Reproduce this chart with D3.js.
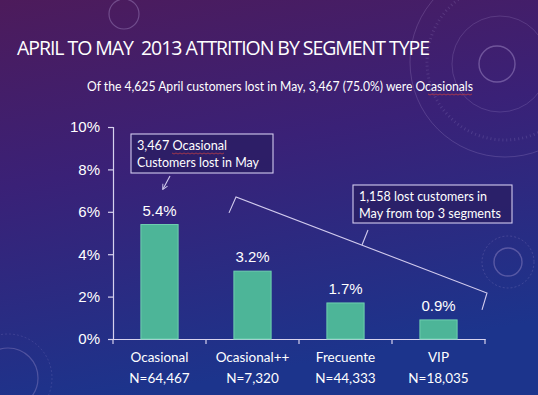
<!DOCTYPE html>
<html>
<head>
<meta charset="utf-8">
<script src="https://cdn.jsdelivr.net/npm/d3@7"></script>
<style>
  html, body { margin: 0; padding: 0; background: #2a2470; }
  svg { display: block; }
</style>
</head>
<body>
<div id="chart"></div>
<script>
const WIDTH  = 538
const HEIGHT = 395

// data
const segments    = ['Ocasional', 'Ocasional++', 'Frecuente', 'VIP']
const attrition   = [5.4, 3.2, 1.7, 0.9]
const valueLabels = ['5.4%', '3.2%', '1.7%', '0.9%']
const counts      = ['N=64,467', 'N=7,320', 'N=44,333', 'N=18,035']
const yTicks      = [0, 2, 4, 6, 8, 10]

const title    = 'APRIL TO MAY  2013 ATTRITION BY SEGMENT TYPE'
const subtitle = 'Of the 4,625 April customers lost in May, 3,467 (75.0%) were Ocasionals'
const note1    = ['3,467 Ocasional', 'Customers lost in May']
const note2    = ['1,158 lost customers in', 'May from top 3 segments']

const CALIBRI = 'Lato, "Open Sans", sans-serif'
const ARIAL   = '"Liberation Sans", Arial, sans-serif'

const svg = d3.select('#chart').append('svg')
    .attr('width', WIDTH)
    .attr('height', HEIGHT)

const defs = svg.append('defs')
const bg = defs.append('linearGradient')
    .attr('id', 'bg')
    .attr('x1', 0).attr('y1', 0).attr('x2', 0.25).attr('y2', 1)
bg.append('stop').attr('offset', '0%').attr('stop-color', '#4d1b5b')
bg.append('stop').attr('offset', '45%').attr('stop-color', '#3a2177')
bg.append('stop').attr('offset', '100%').attr('stop-color', '#1c348c')

defs.append('marker')
    .attr('id', 'arrow')
    .attr('viewBox', '0 0 10 10')
    .attr('refX', 8).attr('refY', 5)
    .attr('markerWidth', 6).attr('markerHeight', 6)
    .attr('orient', 'auto')
  .append('path')
    .attr('d', 'M1,1 L9,5 L1,9')
    .attr('fill', 'none')
    .attr('stroke', '#cfc8ec')
    .attr('stroke-width', 1.4)

svg.append('rect')
    .attr('width', WIDTH)
    .attr('height', HEIGHT)
    .attr('fill', 'url(#bg)')

// faint decorative rings of the slide theme
const deco = svg.append('g')
    .attr('fill', 'none')
    .attr('stroke', '#b9a6dc')
const rings = [
    { cx: 124, cy: 14, r: 15, o: 0.35, dash: null, w: 1.2 },
    { cx: 505, cy: 62, r: 95, o: 0.22, dash: null, w: 1 },
    { cx: 505, cy: 62, r: 78, o: 0.18, dash: '1 3', w: 3 },
    { cx: 500, cy: 64, r: 48, o: 0.2, dash: null, w: 1 },
    { cx: 497, cy: 64, r: 18, o: 0.4, dash: null, w: 1.4 },
    { cx: 508, cy: 262, r: 14, o: 0.35, dash: null, w: 1.4 },
    { cx: 508, cy: 262, r: 26, o: 0.25, dash: '2 2', w: 0.8 },
    { cx: 8, cy: 378, r: 30, o: 0.3, dash: null, w: 1.2 },
    { cx: 8, cy: 378, r: 44, o: 0.2, dash: '2 2', w: 0.8 }
]
deco.selectAll('circle').data(rings).join('circle')
    .attr('cx', d => d.cx).attr('cy', d => d.cy).attr('r', d => d.r)
    .attr('stroke-opacity', d => d.o)
    .attr('stroke-width', d => d.w)
    .attr('stroke-dasharray', d => d.dash)

svg.append('text')
    .attr('x', 17).attr('y', 55)
    .attr('fill', '#ffffff')
    .attr('font-family', '"Open Sans", sans-serif')
    .attr('font-size', 19.5)
    .attr('textLength', 413)
    .style('white-space', 'pre')
    .text(title)

svg.append('text')
    .attr('x', 87).attr('y', 91)
    .attr('fill', '#ffffff')
    .attr('font-family', CALIBRI)
    .attr('font-size', 13.5)
    .attr('textLength', 386)
    .attr('lengthAdjust', 'spacingAndGlyphs')
    .text(subtitle)
svg.append('path')
    .attr('d', 'M' + d3.range(428, 473, 2).map((v, i) => `${v},${94 + (i % 2)}`).join(' L'))
    .attr('fill', 'none')
    .attr('stroke', '#d04040')
    .attr('stroke-width', 0.7)

// chart
const margin = { left: 113, right: 53, top: 127, bottom: 56 }
const x = d3.scaleBand()
    .domain(segments)
    .range([margin.left, WIDTH - margin.right])
const y = d3.scaleLinear()
    .domain([0, 10])
    .range([HEIGHT - margin.bottom, margin.top])

const axisColor = '#d7d2ee'

const yAxis = svg.append('g')
    .attr('transform', `translate(${margin.left},0)`)
    .call(d3.axisLeft(y).tickValues(yTicks).tickFormat(d => d + '%').tickSize(5).tickPadding(8))
yAxis.select('.domain').attr('stroke', axisColor).attr('stroke-width', 1.2)
yAxis.selectAll('.tick line').attr('stroke', axisColor).attr('stroke-width', 1.2)
yAxis.selectAll('.tick text')
    .attr('fill', '#ffffff')
    .attr('font-family', ARIAL)
    .attr('font-size', 15)

const xAxis = svg.append('g')
    .attr('transform', `translate(0,${y(0)})`)
    .call(d3.axisBottom(x).tickSize(0).tickFormat(''))
xAxis.select('.domain').attr('stroke', axisColor).attr('stroke-width', 1.2)
xAxis.selectAll('.tick').remove()
xAxis.selectAll('.sep')
    .data(x.domain().map(d => x(d)).concat([x.range()[1]]))
    .join('line')
    .attr('x1', d => d).attr('x2', d => d)
    .attr('y1', 0).attr('y2', 5)
    .attr('stroke', axisColor)
    .attr('stroke-width', 1.2)

const barW = x.bandwidth() * 0.4
const bars = svg.append('g')
bars.selectAll('rect')
    .data(attrition)
    .join('rect')
    .attr('x', (d, i) => x(segments[i]) + (x.bandwidth() - barW) / 2)
    .attr('y', d => y(d))
    .attr('width', barW)
    .attr('height', d => y(0) - y(d))
    .attr('fill', '#4db598')
    .attr('stroke', '#6fd0b0')
    .attr('stroke-width', 1)

bars.selectAll('text.value')
    .data(attrition)
    .join('text')
    .attr('class', 'value')
    .attr('x', (d, i) => x(segments[i]) + x.bandwidth() / 2)
    .attr('y', d => y(d) - 9)
    .attr('text-anchor', 'middle')
    .attr('fill', '#ffffff')
    .attr('font-family', ARIAL)
    .attr('font-size', 15)
    .text((d, i) => valueLabels[i])

svg.append('g').selectAll('text')
    .data(segments)
    .join('text')
    .attr('x', d => x(d) + x.bandwidth() / 2)
    .attr('y', 362)
    .attr('text-anchor', 'middle')
    .attr('fill', '#ffffff')
    .attr('font-family', CALIBRI)
    .attr('font-size', 13.5)
    .text(d => d)

svg.append('g').selectAll('text')
    .data(counts)
    .join('text')
    .attr('x', (d, i) => x(segments[i]) + x.bandwidth() / 2)
    .attr('y', 383)
    .attr('text-anchor', 'middle')
    .attr('fill', '#ffffff')
    .attr('font-family', CALIBRI)
    .attr('font-size', 13.5)
    .text(d => d)

// annotations
const ann = svg.append('g')
    .attr('fill', 'none')
    .attr('stroke', '#d2cbee')
    .attr('stroke-width', 1.1)

// bracket over the three top segments
const bx0 = x('Ocasional++') + 30
const bx1 = x.range()[1] + 2
ann.append('path')
    .attr('d', `M${bx0 - 7},${y(5.95)} L${bx0},${y(6.7)} L${bx1},${y(2.17)} L${bx1 - 5},${y(1.37)}`)

const box = (x0, y0, w, h, lines, widths) => {
    ann.append('rect')
        .attr('x', x0).attr('y', y0)
        .attr('width', w).attr('height', h)
        .attr('fill', '#2a1e62')
        .attr('fill-opacity', 0.75)
    svg.append('g').selectAll('text')
        .data(lines)
        .join('text')
        .attr('x', x0 + 6)
        .attr('y', (d, i) => y0 + 16 + i * 16.5)
        .attr('fill', '#ffffff')
        .attr('font-family', CALIBRI)
        .attr('font-size', 13.5)
        .attr('textLength', (d, i) => widths[i])
        .attr('lengthAdjust', 'spacingAndGlyphs')
        .text(d => d)
}

box(131, 134, 142, 39, note1, [90, 122])
ann.append('line')
    .attr('x1', 170).attr('y1', 176)
    .attr('x2', 163).attr('y2', 189)
    .attr('marker-end', 'url(#arrow)')

box(353, 185, 159, 38, note2, [128, 142])
ann.append('line')
    .attr('x1', 368).attr('y1', 230)
    .attr('x2', 362).attr('y2', 245)

// red squiggle under Ocasional in note 1
svg.append('path')
    .attr('d', 'M' + d3.range(172, 226, 2).map((v, i) => `${v},${153 + (i % 2)}`).join(' L'))
    .attr('fill', 'none')
    .attr('stroke', '#d04040')
    .attr('stroke-width', 0.7)
</script>
</body>
</html>
